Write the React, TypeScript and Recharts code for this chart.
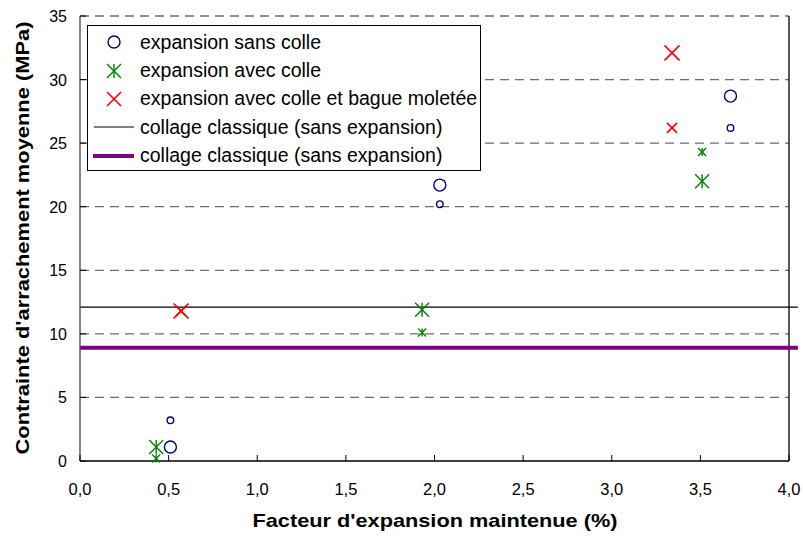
import {
  ScatterChart,
  Scatter,
  XAxis,
  YAxis,
  CartesianGrid,
  ReferenceLine,
  Label,
} from "recharts";

// valeurs
const sansColleGros = [
  { x: 0.51, y: 1.1 },
  { x: 2.03, y: 21.7 },
  { x: 3.67, y: 28.7 },
];
const sansCollePetit = [
  { x: 0.51, y: 3.2 },
  { x: 2.03, y: 20.2 },
  { x: 3.67, y: 26.2 },
];
const avecColleGros = [
  { x: 0.43, y: 1.1 },
  { x: 1.93, y: 11.9 },
  { x: 3.51, y: 22.0 },
];
const avecCollePetit = [
  { x: 0.43, y: 0.2 },
  { x: 1.93, y: 10.1 },
  { x: 3.51, y: 24.3 },
];
const moleteeGros = [
  { x: 0.57, y: 11.8 },
  { x: 3.34, y: 32.1 },
];
const moleteePetit = [
  { x: 0.57, y: 11.8 },
  { x: 3.34, y: 26.2 },
];
const collageClassique = 12.1;
const collageClassique2 = 8.9;
const lineEndX = 4.05;

const xTicks = [0, 0.5, 1, 1.5, 2, 2.5, 3, 3.5, 4];
const yTicks = [0, 5, 10, 15, 20, 25, 30, 35];

const legendItems = [
  { key: "o", label: "expansion sans colle" },
  { key: "star", label: "expansion avec colle" },
  { key: "x", label: "expansion avec colle et bague moletée" },
  { key: "line", label: "collage classique (sans expansion)" },
  { key: "thick", label: "collage classique (sans expansion)" },
];

const FONT = "'Liberation Sans', Arial, Helvetica, sans-serif";
const BLUE = "#000080";
const GREEN = "#008000";
const RED = "#ff0000";
const PURPLE = "#800080";

const circleShape = (r: number) => (props: any) => (
  <circle cx={props.cx} cy={props.cy} r={r} fill="none" stroke={BLUE} strokeWidth={1.4} />
);

const starShape = (s: number) => (props: any) => {
  const { cx, cy } = props;
  return (
    <g stroke={GREEN} strokeWidth={1.4}>
      <line x1={cx} y1={cy - s} x2={cx} y2={cy + s} />
      <line x1={cx - s} y1={cy - s} x2={cx + s} y2={cy + s} />
      <line x1={cx - s} y1={cy + s} x2={cx + s} y2={cy - s} />
    </g>
  );
};

const crossShape = (s: number) => (props: any) => {
  const { cx, cy } = props;
  return (
    <g stroke={RED} strokeWidth={1.6}>
      <line x1={cx - s} y1={cy - s} x2={cx + s} y2={cy + s} />
      <line x1={cx - s} y1={cy + s} x2={cx + s} y2={cy - s} />
    </g>
  );
};

const XTick = (props: any) => {
  const { x, y, payload } = props;
  return (
    <g>
      <line x1={x} y1={y} x2={x} y2={y - 6} stroke="#000" />
      <text x={x} y={y + 34} textAnchor="middle" fontSize={16.5} fontFamily={FONT} fill="#000">
        {payload.value.toFixed(1).replace(".", ",")}
      </text>
    </g>
  );
};

const YTick = (props: any) => {
  const { x, y, payload } = props;
  return (
    <g>
      <line x1={x} y1={y} x2={x + 6} y2={y} stroke="#000" />
      <text x={x - 13} y={y + 6} textAnchor="end" fontSize={16} fontFamily={FONT} fill="#000">
        {payload.value}
      </text>
    </g>
  );
};

const LegendBox = () => (
  <div
    style={{
      position: "absolute",
      left: 87,
      top: 25,
      border: "1px solid #000",
      background: "#fff",
      width: 394,
      height: 146,
      boxSizing: "border-box",
      paddingTop: 2,
      fontFamily: FONT,
      fontSize: 19.5,
    }}
  >
    {legendItems.map((it) => (
      <div key={it.key + it.label} style={{ display: "flex", alignItems: "center", height: 28.4 }}>
        <svg width={52} height={20} style={{ flex: "none" }}>
          {it.key === "o" && <circle cx={26} cy={10} r={6} fill="none" stroke={BLUE} strokeWidth={1.4} />}
          {it.key === "star" && (
            <g stroke={GREEN} strokeWidth={1.4}>
              <line x1={26} y1={3} x2={26} y2={17} />
              <line x1={19} y1={3} x2={33} y2={17} />
              <line x1={19} y1={17} x2={33} y2={3} />
            </g>
          )}
          {it.key === "x" && (
            <g stroke={RED} strokeWidth={1.6}>
              <line x1={19} y1={3} x2={33} y2={17} />
              <line x1={19} y1={17} x2={33} y2={3} />
            </g>
          )}
          {it.key === "line" && <line x1={6} y1={10} x2={46} y2={10} stroke="#000" strokeWidth={1} />}
          {it.key === "thick" && <line x1={5} y1={10} x2={46} y2={10} stroke={PURPLE} strokeWidth={4} />}
        </svg>
        <span style={{ color: "#000", whiteSpace: "nowrap" }}>{it.label}</span>
      </div>
    ))}
  </div>
);

export default function App() {
  return (
    <div style={{ position: "absolute", left: 0, top: 0, width: 803, height: 540, background: "#fff" }}>
      <ScatterChart width={803} height={540} margin={{ top: 16, right: 14, bottom: 0, left: 0 }}>
        <CartesianGrid
          horizontal
          vertical={false}
          stroke="#6e6e6e"
          strokeDasharray="9 6"
          strokeWidth={1.3}
          horizontalValues={yTicks.slice(1)}
        />
        <XAxis
          type="number"
          dataKey="x"
          domain={[0, 4]}
          ticks={xTicks}
          interval={0}
          height={79}
          tickSize={0}
          tickMargin={0}
          tickLine={false}
          tick={<XTick />}
          axisLine={{ stroke: "#000", strokeWidth: 1.3 }}
        >
          <Label
            content={() => (
              <text
                x={435}
                y={527}
                textAnchor="middle"
                fontSize={19}
                fontWeight="bold"
                fontFamily={FONT}
                fill="#000"
                textLength={365}
                lengthAdjust="spacingAndGlyphs"
              >
                Facteur d'expansion maintenue (%)
              </text>
            )}
          />
        </XAxis>
        <YAxis
          type="number"
          dataKey="y"
          domain={[0, 35]}
          ticks={yTicks}
          interval={0}
          width={80}
          tickSize={0}
          tickMargin={0}
          tickLine={false}
          tick={<YTick />}
          axisLine={{ stroke: "#444", strokeWidth: 1.3 }}
        >
          <Label
            content={() => (
              <text
                x={22}
                y={238}
                transform="rotate(-90 22 238)"
                textAnchor="middle"
                dominantBaseline="central"
                fontSize={19}
                fontWeight="bold"
                fontFamily={FONT}
                fill="#000"
                textLength={433}
                lengthAdjust="spacingAndGlyphs"
              >
                Contrainte d'arrachement moyenne (MPa)
              </text>
            )}
          />
        </YAxis>
        <ReferenceLine x={4} stroke="#000" strokeWidth={1.3} />
        <ReferenceLine
          segment={[
            { x: 0, y: collageClassique },
            { x: lineEndX, y: collageClassique },
          ]}
          stroke="#000"
          strokeWidth={1.2}
          ifOverflow="visible"
        />
        <ReferenceLine
          segment={[
            { x: 0, y: collageClassique2 },
            { x: lineEndX, y: collageClassique2 },
          ]}
          stroke={PURPLE}
          strokeWidth={4}
          ifOverflow="visible"
        />
        <Scatter data={sansColleGros} shape={circleShape(6)} isAnimationActive={false} />
        <Scatter data={sansCollePetit} shape={circleShape(3.3)} isAnimationActive={false} />
        <Scatter data={avecColleGros} shape={starShape(7)} isAnimationActive={false} />
        <Scatter data={avecCollePetit} shape={starShape(4)} isAnimationActive={false} />
        <Scatter data={moleteeGros} shape={crossShape(7.5)} isAnimationActive={false} />
        <Scatter data={moleteePetit} shape={crossShape(5)} isAnimationActive={false} />
      </ScatterChart>
      <LegendBox />
    </div>
  );
}
